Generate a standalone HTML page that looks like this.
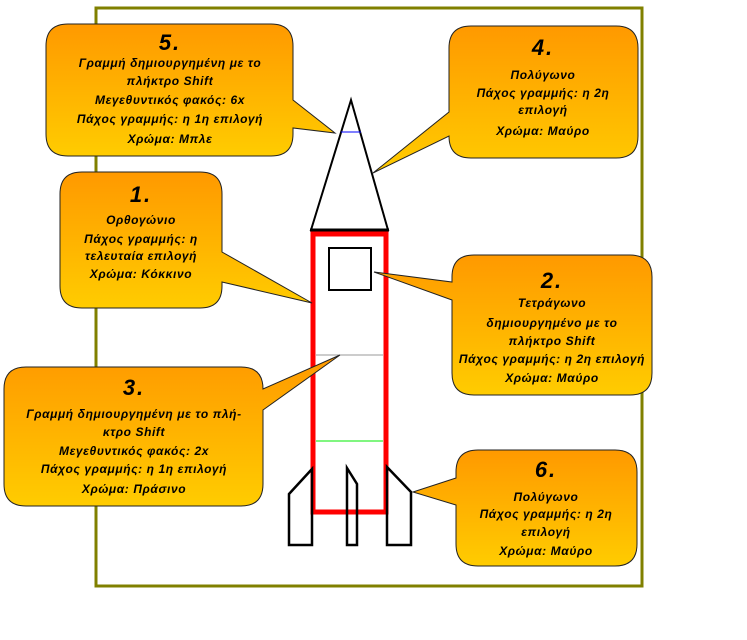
<!DOCTYPE html>
<html><head><meta charset="utf-8"><style>
html,body{margin:0;padding:0;background:#fff;}
svg{display:block;}
text{font-family:"Liberation Sans","DejaVu Sans",sans-serif;font-style:italic;font-weight:bold;font-size:12px;letter-spacing:0.6px;fill:#000;text-anchor:middle;}
.n{font-size:22px;letter-spacing:2px;}
</style></head><body>
<svg width="747" height="640" viewBox="0 0 747 640" xmlns="http://www.w3.org/2000/svg">
<defs>
<linearGradient id="g" x1="0" y1="0" x2="0" y2="1">
<stop offset="0" stop-color="#ff9900"/><stop offset="1" stop-color="#ffcc00"/>
</linearGradient>
</defs>
<rect x="96" y="8" width="546" height="578" fill="none" stroke="#808000" stroke-width="3"/>
<!-- rocket -->
<polygon points="351,100 311,230 388,230" fill="#fff" stroke="#000" stroke-width="2"/>
<line x1="310" y1="230" x2="389" y2="230" stroke="#000" stroke-width="3"/>
<line x1="341" y1="132" x2="361" y2="132" stroke="#0000ff" stroke-width="1"/>
<rect x="313" y="234" width="73" height="278" fill="#fff" stroke="#ff0000" stroke-width="5"/>
<rect x="329" y="248" width="42" height="42" fill="none" stroke="#000" stroke-width="2"/>
<line x1="316" y1="355" x2="383" y2="355" stroke="#999" stroke-width="1"/>
<line x1="316" y1="441" x2="383" y2="441" stroke="#00ee00" stroke-width="1"/>
<g fill="none" stroke="#000" stroke-width="2.5">
<polygon points="289,494 312,469 312,545 289,545"/>
<polygon points="347,468 357,484 357,545 347,545"/>
<polygon points="387,467 411,492 411,545 387,545"/>
</g>
<g fill="url(#g)" stroke="#222" stroke-width="1">
<path d="M68,24 H271 Q293,24 293,46 V100 L335,133 L293,128 V134 Q293,156 271,156 H68 Q46,156 46,134 V46 Q46,24 68,24 Z"/>
<path d="M471,26 H616 Q638,26 638,48 V136 Q638,158 616,158 H471 Q449,158 449,136 L373,173 L449,112 V48 Q449,26 471,26 Z"/>
<path d="M82,172 H200 Q222,172 222,194 V252 L312,303 L222,282 V286 Q222,308 200,308 H82 Q60,308 60,286 V194 Q60,172 82,172 Z"/>
<path d="M474,255 H630 Q652,255 652,277 V373 Q652,395 630,395 H474 Q452,395 452,373 V300 L374,272 L452,282 V277 Q452,255 474,255 Z"/>
<path d="M26,367 H241 Q263,367 263,389 L340,355 L263,410 V484 Q263,506 241,506 H26 Q4,506 4,484 V389 Q4,367 26,367 Z"/>
<path d="M478,450 H615 Q637,450 637,472 V544 Q637,566 615,566 H478 Q456,566 456,544 V505 L413,492 L456,478 V472 Q456,450 478,450 Z"/>
</g>
<!-- texts -->
<text class="n" x="170" y="50">5.</text>
<text x="170" y="67">Γραμμή δημιουργημένη με το</text>
<text x="170" y="85">πλήκτρο Shift</text>
<text x="170" y="104">Μεγεθυντικός φακός: 6x</text>
<text x="170" y="123">Πάχος γραμμής: η 1η επιλογή</text>
<text x="170" y="143">Χρώμα: Μπλε</text>

<text class="n" x="543" y="55">4.</text>
<text x="543" y="79">Πολύγωνο</text>
<text x="543" y="97">Πάχος γραμμής: η 2η</text>
<text x="543" y="114">επιλογή</text>
<text x="543" y="135">Χρώμα: Μαύρο</text>

<text class="n" x="141" y="202">1.</text>
<text x="141" y="224">Ορθογώνιο</text>
<text x="141" y="243">Πάχος γραμμής: η</text>
<text x="141" y="260">τελευταία επιλογή</text>
<text x="141" y="278">Χρώμα: Κόκκινο</text>

<text class="n" x="552" y="288">2.</text>
<text x="552" y="307">Τετράγωνο</text>
<text x="552" y="327">δημιουργημένο με το</text>
<text x="552" y="345">πλήκτρο Shift</text>
<text x="552" y="363">Πάχος γραμμής: η 2η επιλογή</text>
<text x="552" y="382">Χρώμα: Μαύρο</text>

<text class="n" x="134" y="395">3.</text>
<text x="134" y="418">Γραμμή δημιουργημένη με το πλή-</text>
<text x="134" y="436">κτρο Shift</text>
<text x="134" y="455">Μεγεθυντικός φακός: 2x</text>
<text x="134" y="473">Πάχος γραμμής: η 1η επιλογή</text>
<text x="134" y="493">Χρώμα: Πράσινο</text>

<text class="n" x="546" y="477">6.</text>
<text x="546" y="501">Πολύγωνο</text>
<text x="546" y="518">Πάχος γραμμής: η 2η</text>
<text x="546" y="536">επιλογή</text>
<text x="546" y="555">Χρώμα: Μαύρο</text>
</svg>
</body></html>
